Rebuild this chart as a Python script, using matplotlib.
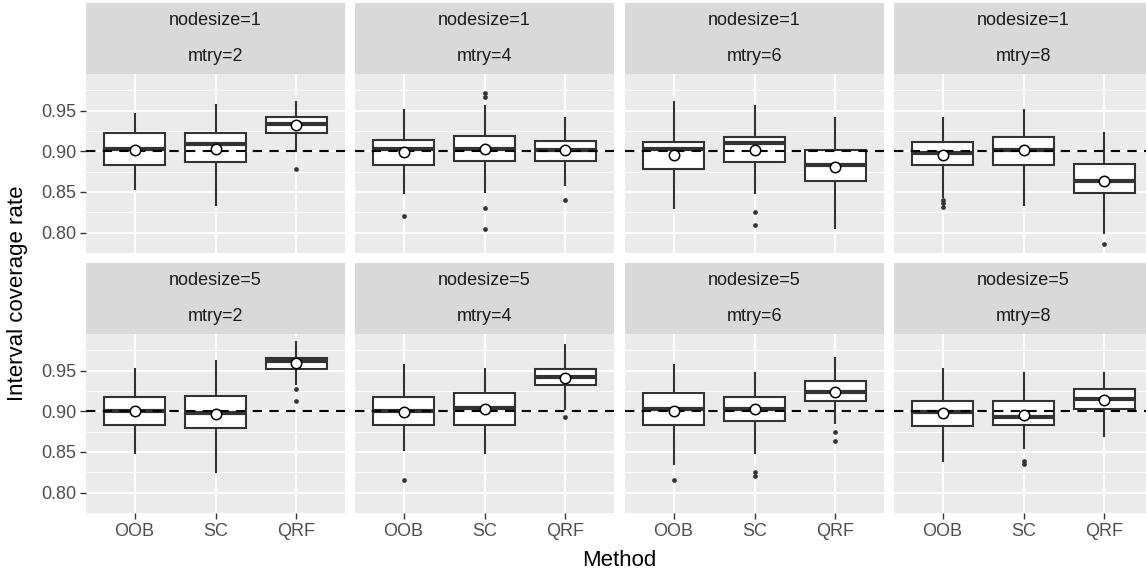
import matplotlib
matplotlib.use("Agg")
import matplotlib.pyplot as plt

plt.rcParams['font.family'] = ['Liberation Sans', 'DejaVu Sans']

methods = ['OOB', 'SC', 'QRF']
nodesizes = [1, 1, 1, 1, 5, 5, 5, 5]
mtrys = [2, 4, 6, 8, 2, 4, 6, 8]

# box statistics per panel, one entry per method (OOB, SC, QRF)
whisker_low = [
    [0.854, 0.834, 0.900], [0.849, 0.850, 0.859], [0.830, 0.849, 0.806], [0.844, 0.834, 0.800],
    [0.849, 0.825, 0.933], [0.853, 0.849, 0.903], [0.835, 0.849, 0.886], [0.839, 0.8545, 0.870],
]
quart1 = [
    [0.883, 0.887, 0.9225], [0.883, 0.888, 0.888], [0.878, 0.887, 0.864], [0.883, 0.883, 0.849],
    [0.883, 0.879, 0.9517], [0.883, 0.883, 0.932], [0.883, 0.888, 0.9127], [0.882, 0.883, 0.903],
]
medians = [
    [0.903, 0.9086, 0.933], [0.903, 0.903, 0.902], [0.903, 0.910, 0.883], [0.898, 0.901, 0.864],
    [0.900, 0.898, 0.962], [0.900, 0.904, 0.9426], [0.903, 0.903, 0.924], [0.899, 0.8934, 0.9148],
]
quart3 = [
    [0.9225, 0.9225, 0.942], [0.9135, 0.919, 0.9127], [0.912, 0.917, 0.902], [0.912, 0.918, 0.884],
    [0.9176, 0.919, 0.966], [0.9176, 0.922, 0.9516], [0.922, 0.9176, 0.937], [0.9127, 0.9127, 0.927],
]
whisker_high = [
    [0.946, 0.957, 0.9606], [0.951, 0.956, 0.941], [0.961, 0.956, 0.941], [0.941, 0.951, 0.922],
    [0.9516, 0.962, 0.985], [0.9566, 0.9516, 0.981], [0.9566, 0.947, 0.966], [0.9516, 0.947, 0.947],
]
means = [
    [0.901, 0.903, 0.932], [0.899, 0.9025, 0.901], [0.896, 0.901, 0.881], [0.8955, 0.901, 0.864],
    [0.900, 0.897, 0.959], [0.899, 0.9025, 0.941], [0.900, 0.9025, 0.924], [0.898, 0.896, 0.9135],
]
outliers = [
    [[], [], [0.878]],
    [[0.820], [0.972, 0.967, 0.830, 0.805], [0.840]],
    [[], [0.825, 0.810], []],
    [[0.840, 0.836, 0.832], [], [0.786]],
    [[], [], [0.927, 0.9127]],
    [[0.815], [], [0.893]],
    [[0.815], [0.825, 0.820], [0.874, 0.8635]],
    [[], [0.839, 0.835], []],
]
nominal = 0.90

W, H = 1146, 573
fig = plt.figure(figsize=(W / 100, H / 100), dpi=100)

col_left = [86, 355, 625, 894]
panel_w = 259
row_top = [74, 334]
panel_h = 179
strip_h = 71.5


def px_box(x0, y0, w, h):
    return [x0 / W, 1 - (y0 + h) / H, w / W, h / H]


edge = '#333333'
for i in range(8):
    r, c = divmod(i, 4)
    ax = fig.add_axes(px_box(col_left[c], row_top[r], panel_w, panel_h))
    ax.set_facecolor('#EBEBEB')
    for s in ax.spines.values():
        s.set_visible(False)
    ax.set_xlim(0.4, 3.6)
    ax.set_ylim(0.776, 0.995)
    ax.set_yticks([0.80, 0.85, 0.90, 0.95])
    ax.set_yticks([0.775, 0.825, 0.875, 0.925, 0.975], minor=True)
    ax.set_xticks([1, 2, 3])
    ax.grid(True, which='major', color='white', linewidth=1.4)
    ax.grid(True, which='minor', axis='y', color='white', linewidth=0.7)
    ax.set_axisbelow(True)
    ax.tick_params(which='minor', length=0)
    ax.tick_params(which='major', length=4, width=1.0, color=edge,
                   labelsize=13, labelcolor='#4D4D4D', pad=3)
    if c == 0:
        ax.set_yticklabels(['0.80', '0.85', '0.90', '0.95'])
    else:
        ax.tick_params(axis='y', length=0, labelleft=False)
    if r == 1:
        ax.set_xticklabels(methods)
    else:
        ax.tick_params(axis='x', length=0, labelbottom=False)

    stats = []
    for j in range(3):
        stats.append(dict(whislo=whisker_low[i][j], q1=quart1[i][j], med=medians[i][j],
                          q3=quart3[i][j], whishi=whisker_high[i][j], fliers=outliers[i][j]))
    ax.bxp(stats, positions=[1, 2, 3], widths=0.75, patch_artist=True, showcaps=False,
           boxprops=dict(facecolor='white', edgecolor=edge, linewidth=1.5),
           medianprops=dict(color=edge, linewidth=3.0, solid_capstyle='butt'),
           whiskerprops=dict(color=edge, linewidth=1.5),
           flierprops=dict(marker='o', markersize=3.4, markerfacecolor=edge,
                           markeredgecolor=edge, markeredgewidth=0),
           manage_ticks=False, zorder=2)
    ax.axhline(nominal, color='black', linewidth=1.5, linestyle=(0, (4.5, 3.5)), zorder=3)
    ax.plot([1, 2, 3], means[i], linestyle='none', marker='o', markersize=7.5,
            markerfacecolor='white', markeredgecolor='black', markeredgewidth=1.1, zorder=4)

    # facet strip with the two labels stacked
    sx = fig.add_axes(px_box(col_left[c], row_top[r] - strip_h, panel_w, strip_h))
    sx.set_facecolor('#D9D9D9')
    sx.set_xticks([])
    sx.set_yticks([])
    for s in sx.spines.values():
        s.set_visible(False)
    sx.text(0.5, 0.75, f'nodesize={nodesizes[i]}', ha='center', va='center',
            fontsize=13, color='#1A1A1A', transform=sx.transAxes)
    sx.text(0.5, 0.25, f'mtry={mtrys[i]}', ha='center', va='center',
            fontsize=13, color='#1A1A1A', transform=sx.transAxes)

fig.text(18 / W, 1 - 293 / H, 'Interval coverage rate', rotation=90,
         ha='center', va='center', fontsize=16)
fig.text(619 / W, 1 - 560 / H, 'Method', ha='center', va='center', fontsize=16)

fig.savefig('out.png', dpi=100)
